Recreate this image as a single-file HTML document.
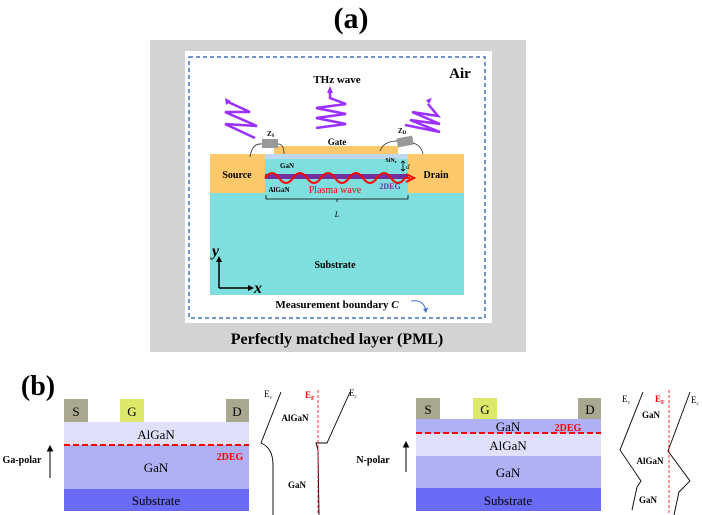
<!DOCTYPE html><html><head><style>body{margin:0;background:#fff}svg{display:block}</style></head><body>
<svg width="702" height="515" viewBox="0 0 702 515" xmlns="http://www.w3.org/2000/svg" font-family="Liberation Serif, serif">
<text x="351" y="28" font-size="30" font-weight="bold" text-anchor="middle">(a)</text>
<rect x="150" y="40" width="376" height="312" fill="#d3d3d3"/>
<rect x="185" y="51" width="307" height="272" fill="#fff"/>
<rect x="189" y="57" width="296" height="261" fill="none" stroke="#4472c4" stroke-width="1.5" stroke-dasharray="4,3"/>
<text x="460" y="78" font-size="15" font-weight="bold" text-anchor="middle">Air</text>
<text x="337" y="83" font-size="11" font-weight="bold" text-anchor="middle">THz wave</text>
<g fill="none" stroke="#9b30ff" stroke-width="2.5">
<path d="M255,138 L225,124 L257,126 L225,112 L250,112 L228,102"/>
<path d="M316,128 L346,124 L316,118 L346,114 L316,108 L346,104 L330,98 L330,92"/>
<path d="M405,125 L440,132 L410,120 L440,124 L412,112 L438,116 L428,104"/>
</g>
<g fill="#9b30ff"><path d="M225,98 l6,3 l-5,4z"/><path d="M327,93 l3,-7 l3,7z"/><path d="M426,100 l6,-2 l-3,6z"/></g>
<rect x="210" y="154" width="55" height="39" fill="#fdc869"/>
<rect x="408" y="154" width="56" height="39" fill="#fdc869"/>
<rect x="210" y="193" width="254" height="102" fill="#7fdfde"/>
<rect x="265" y="154" width="143" height="39" fill="#7fdfde"/>
<rect x="265" y="154" width="143" height="5" fill="#bdd7ee"/>
<rect x="274" y="146" width="124" height="8" fill="#fdc869"/>
<rect x="265" y="174" width="143" height="5" fill="#7030a0"/>
<path d="M265,178 q7,-10 14,0 t14,0 t14,0 t14,0 t14,0 t14,0 t14,0 t14,0 t14,0 t14,0 L410,178" fill="none" stroke="#f00" stroke-width="2"/>
<path d="M406,174 l8,4 l-8,4" fill="none" stroke="#f00" stroke-width="2"/>
<text x="237" y="178" font-size="10" font-weight="bold" text-anchor="middle">Source</text>
<text x="436" y="178" font-size="10" font-weight="bold" text-anchor="middle">Drain</text>
<text x="337" y="145" font-size="9" font-weight="bold" text-anchor="middle">Gate</text>
<text x="287" y="168" font-size="7" font-weight="bold" text-anchor="middle">GaN</text>
<text x="279" y="192" font-size="7" font-weight="bold" text-anchor="middle">AlGaN</text>
<text x="335" y="193" font-size="10" fill="#f00" text-anchor="middle">Plasma wave</text>
<text x="390" y="189" font-size="8" font-weight="bold" fill="#7030a0" text-anchor="middle">2DEG</text>
<text x="391" y="162" font-size="6" font-weight="bold" text-anchor="middle">SiN<tspan font-size="4" dy="1">x</tspan></text>
<path d="M403,161 v10 M401,163 l2,-2 l2,2 M401,169 l2,2 l2,-2" stroke="#000" fill="none" stroke-width="0.8"/>
<text x="406" y="169" font-size="7" font-style="italic">d</text>
<path d="M266,195 v4 h142 v-4 M337,199 v3" fill="none" stroke="#000" stroke-width="0.8"/>
<text x="337" y="217" font-size="8" font-style="italic" text-anchor="middle">L</text>
<rect x="262" y="139" width="16" height="9" fill="#999"/>
<rect x="397" y="137" width="16" height="9" fill="#999" transform="rotate(-10 405 141)"/>
<path d="M250,157 q2,-14 12,-13 M278,144 q6,0 6,10 M380,151 q4,-10 17,-10 M413,143 q8,2 10,11" fill="none" stroke="#333" stroke-width="0.8"/>
<text x="267" y="136" font-size="7" font-weight="bold">Z<tspan font-size="5" dy="1">S</tspan></text>
<text x="398" y="133" font-size="7" font-weight="bold">Z<tspan font-size="5" dy="1">D</tspan></text>
<text x="335" y="268" font-size="10" font-weight="bold" text-anchor="middle">Substrate</text>
<path d="M219,288 V261 M219,288 H249" stroke="#000" stroke-width="1.5" fill="none"/>
<path d="M216,262 l3,-6 l3,6z M248,285 l6,3 l-6,3z"/>
<text x="212" y="256" font-size="16" font-weight="bold" font-style="italic">y</text>
<text x="254" y="293" font-size="16" font-weight="bold" font-style="italic">x</text>
<text x="337" y="308" font-size="11" font-weight="bold" text-anchor="middle">Measurement boundary <tspan font-style="italic">C</tspan></text>
<path d="M411,301 q12,-2 15,9" fill="none" stroke="#4472c4" stroke-width="1"/>
<path d="M423,309 l3,4 l2,-5z" fill="#4472c4"/>
<text x="337" y="344" font-size="16" font-weight="bold" text-anchor="middle">Perfectly matched layer (PML)</text>

<text x="38" y="395" font-size="28" font-weight="bold" text-anchor="middle">(b)</text>
<g font-size="13" text-anchor="middle">
<rect x="64" y="422" width="185" height="23" fill="#e0e0fa"/>
<rect x="64" y="445" width="185" height="44" fill="#b0b0f5"/>
<rect x="64" y="489" width="185" height="22" fill="#6a6af5"/>
<rect x="64" y="399" width="24" height="23" fill="#a8a890"/>
<rect x="120" y="399" width="24" height="23" fill="#dde86a"/>
<rect x="226" y="399" width="23" height="23" fill="#a8a890"/>
<text x="76" y="416">S</text><text x="132" y="416">G</text><text x="237" y="416">D</text>
<text x="156" y="439">AlGaN</text><text x="156" y="472">GaN</text><text x="156" y="505">Substrate</text>
<line x1="64" y1="445" x2="249" y2="445" stroke="#f00" stroke-width="2" stroke-dasharray="6,3"/>
<rect x="416" y="419" width="185" height="14" fill="#b0b0f5"/>
<rect x="416" y="433" width="185" height="23" fill="#e0e0fa"/>
<rect x="416" y="456" width="185" height="32" fill="#b0b0f5"/>
<rect x="416" y="488" width="185" height="23" fill="#6a6af5"/>
<rect x="416" y="398" width="24" height="21" fill="#a8a890"/>
<rect x="473" y="398" width="24" height="21" fill="#dde86a"/>
<rect x="578" y="398" width="23" height="21" fill="#a8a890"/>
<text x="428" y="414">S</text><text x="485" y="414">G</text><text x="590" y="414">D</text>
<text x="508" y="431">GaN</text><text x="508" y="450">AlGaN</text><text x="508" y="477">GaN</text><text x="508" y="505">Substrate</text>
<line x1="416" y1="433" x2="601" y2="433" stroke="#f00" stroke-width="2" stroke-dasharray="6,3"/>
</g>
<g font-weight="bold" font-size="9">
<text x="230" y="460" fill="#f00" font-size="10" text-anchor="middle">2DEG</text>
<text x="568" y="431" fill="#f00" font-size="10" text-anchor="middle">2DEG</text>
<text x="22" y="463" font-size="10" text-anchor="middle">Ga-polar</text>
<text x="373" y="463" font-size="10" text-anchor="middle">N-polar</text>
<text x="295" y="421" text-anchor="middle">AlGaN</text><text x="297" y="488" text-anchor="middle">GaN</text>
<text x="651" y="418" text-anchor="middle">GaN</text><text x="650" y="464" text-anchor="middle">AlGaN</text><text x="648" y="503" text-anchor="middle">GaN</text>
<text x="264" y="397" font-weight="normal">E<tspan font-size="5" dy="2">v</tspan></text>
<text x="305" y="398" fill="#f00">E<tspan font-size="6" dy="2">F</tspan></text>
<text x="349" y="396" font-weight="normal">E<tspan font-size="5" dy="2">c</tspan></text>
<text x="622" y="402" font-weight="normal">E<tspan font-size="5" dy="2">v</tspan></text>
<text x="655" y="402" fill="#f00">E<tspan font-size="6" dy="2">F</tspan></text>
<text x="691" y="403" font-weight="normal">E<tspan font-size="5" dy="2">c</tspan></text>
</g>
<path d="M50,478 V449 M47.5,451 l2.5,-5 l2.5,5z M406,472 V445 M403.5,447 l2.5,-5 l2.5,5z" stroke="#000" fill="#000" stroke-width="1"/>
<g fill="none" stroke="#000" stroke-width="0.9">
<path d="M281,392 L261,443 Q273,448 273,465 L273,515"/>
<path d="M350,392 L327,443 L316,443 L318,450 L319,515"/>
<path d="M643,392 L620,450 L641,481 L637,487 L632,510"/>
<path d="M690,392 L668,451 L690,481 L679,492 L674,515"/>
</g>
<line x1="318" y1="390" x2="318" y2="515" stroke="#f00" stroke-width="0.8" stroke-dasharray="3,2"/>
<line x1="669" y1="390" x2="669" y2="515" stroke="#f00" stroke-width="0.8" stroke-dasharray="3,2"/>
</svg>
</body></html>
